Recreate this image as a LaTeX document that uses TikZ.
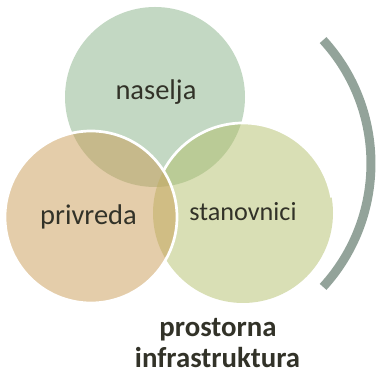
\documentclass[tikz,border=0pt]{standalone}
\usepackage{fontspec}
\setmainfont{Carlito}
\definecolor{topc}{RGB}{135,177,135}
\definecolor{rightc}{RGB}{179,191,107}
\definecolor{leftc}{RGB}{201,155,85}
\definecolor{txt}{RGB}{50,50,40}
\definecolor{bracketc}{RGB}{147,163,154}
\tikzset{
  venn/.style={circle, inner sep=0pt, outer sep=0pt, fill opacity=0.5, text opacity=1},
  lbl/.style={anchor=base, text=txt, inner sep=0pt, font=\fontsize{28.5}{30}\selectfont},
  sep/.style={draw=white, line width=2.7pt},
  bracket/.style={draw=bracketc, line width=9pt},
  title/.style={anchor=base, text=txt, inner sep=0pt, font=\fontsize{28.8}{31}\selectfont\bfseries}
}
\begin{document}
\begin{tikzpicture}[x=1pt,y=1pt]
\useasboundingbox (0,0) rectangle (377,374);
% circles: top, right, left (drawing order)
\node[venn, fill=topc, minimum size=180pt] (top) at (155,277) {};
\node[venn, fill=rightc, minimum size=180pt] (right) at (243,161) {};
\draw[sep] (right.152) arc[start angle=152, end angle=10, radius=90pt];
\node[venn, fill=leftc, minimum size=172pt, sep] (left) at (91,157) {};
% labels
\node[lbl] (t1) at (156,274) {naselja};
\node[lbl] (t2) at (88.5,149) {privreda};
\node[lbl, font=\fontsize{26.2}{28}\selectfont] (t3) at (243,153) {stanovnici};
% bracket
\draw[bracket] (323.1,333.9) arc[start angle=42.4, end angle=-42.4, radius=183pt];
% title
\node[title] (p1) at (218,37) {prostorna};
\node[title] (p2) at (217.5,6) {infrastruktura};
\end{tikzpicture}
\end{document}
